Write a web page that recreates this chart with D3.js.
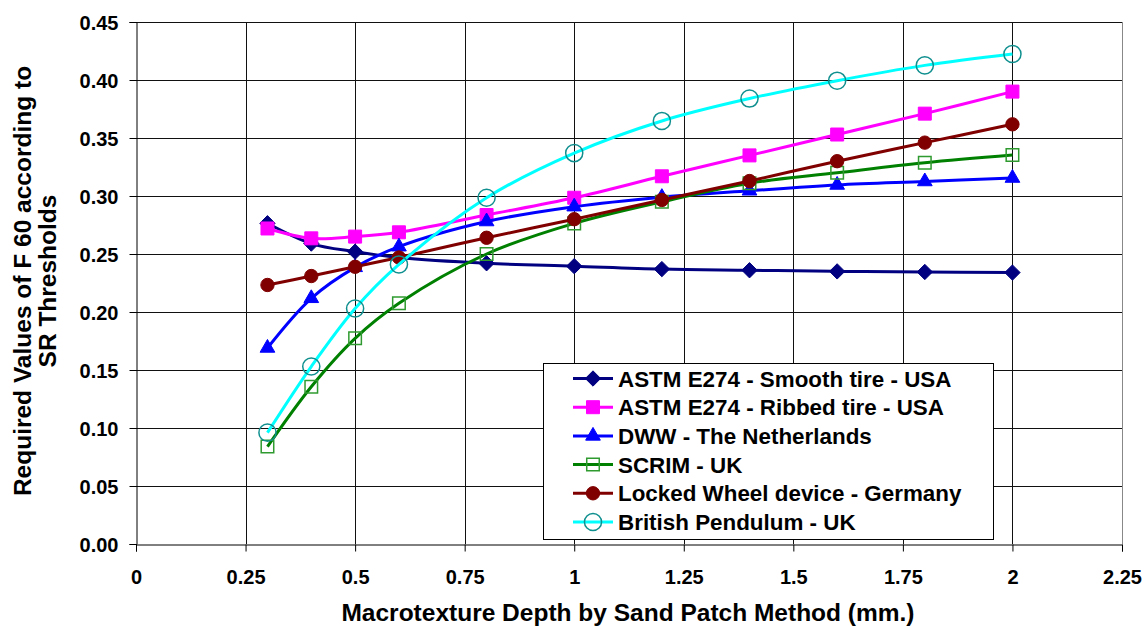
<!DOCTYPE html>
<html>
<head>
<meta charset="utf-8">
<script src="https://cdn.jsdelivr.net/npm/d3@7"></script>
<style>
  body { margin: 0; background: #fff; }
  svg { display: block; font-family: "Liberation Sans", Arial, sans-serif; font-weight: bold; }
</style>
</head>
<body>
<div id="chart"></div>
<script>
// data
const depths = [0.3, 0.4, 0.5, 0.6, 0.8, 1.0, 1.2, 1.4, 1.6, 1.8, 2.0];

const smoothTire = [0.2765, 0.259, 0.252, 0.247, 0.242, 0.2395, 0.237, 0.236, 0.235, 0.2345, 0.234];
const ribbedTire = [0.272, 0.2635, 0.265, 0.2687, 0.2836, 0.2985, 0.317, 0.335, 0.353, 0.371, 0.390];
const dww = [0.169, 0.2118, 0.2385, 0.2563, 0.278, 0.2908, 0.299, 0.3045, 0.3095, 0.3125, 0.3155];
const scrim = [0.084, 0.1356, 0.1773, 0.2075, 0.250, 0.2764, 0.295, 0.311, 0.320, 0.3287, 0.3353];
const lockedWheel = [0.2233, 0.231, 0.239, 0.247, 0.264, 0.280, 0.2966, 0.3129, 0.330, 0.346, 0.3618];
const britishPendulum = [0.096, 0.153, 0.203, 0.241, 0.2985, 0.337, 0.3647, 0.384, 0.3994, 0.4126, 0.4224];

const seriesNames = [
  'ASTM E274 - Smooth tire - USA',
  'ASTM E274 - Ribbed tire - USA',
  'DWW - The Netherlands',
  'SCRIM - UK',
  'Locked Wheel device - Germany',
  'British Pendulum - UK'
];

const xTicks = [0, 0.25, 0.5, 0.75, 1, 1.25, 1.5, 1.75, 2, 2.25];
const xTickLabels = ['0', '0.25', '0.5', '0.75', '1', '1.25', '1.5', '1.75', '2', '2.25'];
const yTicks = [0, 0.05, 0.1, 0.15, 0.2, 0.25, 0.3, 0.35, 0.4, 0.45];
const yTickLabels = ['0.00', '0.05', '0.10', '0.15', '0.20', '0.25', '0.30', '0.35', '0.40', '0.45'];

const xTitle = 'Macrotexture Depth by Sand Patch Method (mm.)';
const yTitleLines = ['Required Values of F 60 according to', 'SR Thresholds'];

// styling for each series, same order as seriesNames
const styles = [
  { line: '#000080', marker: 'diamond', fill: '#000080', stroke: '#000080', size: 150 },
  { line: '#ff00ff', marker: 'square', fill: '#ff00ff', stroke: '#ff00ff', size: 215 },
  { line: '#0000ff', marker: 'triangle', fill: '#0000ff', stroke: '#0000ff', size: 155 },
  { line: '#008000', marker: 'square', fill: 'none', stroke: '#2f9a2f', size: 200 },
  { line: '#800000', marker: 'circle', fill: '#800000', stroke: '#800000', size: 140 },
  { line: '#00ffff', marker: 'circle', fill: 'none', stroke: '#108f8f', size: 230 }
];

const values = [smoothTire, ribbedTire, dww, scrim, lockedWheel, britishPendulum];
const series = seriesNames.map((name, i) => ({
  name: name,
  style: styles[i],
  points: depths.map((d, j) => ({ x: d, y: values[i][j] }))
}));

const width = 1144;
const height = 626;
const margin = { top: 22, right: 22, bottom: 82, left: 136 };

const svg = d3.select('#chart')
  .append('svg')
  .attr('width', width)
  .attr('height', height);

const x = d3.scaleLinear()
  .domain([0, 2.25])
  .range([margin.left, width - margin.right]);

const y = d3.scaleLinear()
  .domain([0, 0.45])
  .range([height - margin.bottom, margin.top]);

const symbolTypes = {
  diamond: d3.symbolDiamond2,
  square: d3.symbolSquare2,
  triangle: d3.symbolTriangle2,
  circle: d3.symbolCircle
};

// grid
const grid = svg.append('g').attr('stroke', '#111').attr('stroke-width', 1);
grid.selectAll('line.h')
  .data(yTicks.slice(1))
  .enter()
  .append('line')
  .attr('x1', x(0))
  .attr('x2', x(2.25))
  .attr('y1', d => Math.round(y(d)) + 0.5)
  .attr('y2', d => Math.round(y(d)) + 0.5);

grid.selectAll('line.v')
  .data(xTicks.slice(1, -1))
  .enter()
  .append('line')
  .attr('y1', y(0))
  .attr('y2', y(0.45))
  .attr('x1', d => Math.round(x(d)) + 0.5)
  .attr('x2', d => Math.round(x(d)) + 0.5);

// right border of plot area
svg.append('line')
  .attr('x1', Math.round(x(2.25)) + 0.5)
  .attr('x2', Math.round(x(2.25)) + 0.5)
  .attr('y1', y(0.45))
  .attr('y2', y(0))
  .attr('stroke', '#888');

// axes
const xAxis = svg.append('g')
  .attr('transform', `translate(0,${Math.round(y(0)) + 0.5})`)
  .call(d3.axisBottom(x)
    .tickValues(xTicks)
    .tickFormat((d, i) => xTickLabels[i])
    .tickSize(7)
    .tickPadding(18));

const yAxis = svg.append('g')
  .attr('transform', `translate(${Math.round(x(0)) + 0.5},0)`)
  .call(d3.axisLeft(y)
    .tickValues(yTicks)
    .tickFormat((d, i) => yTickLabels[i])
    .tickSize(7)
    .tickPadding(11));

[xAxis, yAxis].forEach(ax => {
  ax.select('.domain').attr('stroke', '#000');
  ax.selectAll('.tick line').attr('stroke', '#000');
  ax.selectAll('.tick text')
    .attr('fill', '#000')
    .style('font-family', '"Liberation Sans", Arial, sans-serif')
    .style('font-weight', 'bold')
    .style('font-size', '20px');
});
yAxis.selectAll('.tick text').attr('dy', '0.36em');

// axis titles
svg.append('text')
  .attr('x', 628)
  .attr('y', 621)
  .attr('text-anchor', 'middle')
  .style('font-size', '24.5px')
  .text(xTitle);

svg.append('g')
  .attr('transform', `translate(0,${(y(0) + y(0.45)) / 2 - 2}) rotate(-90)`)
  .selectAll('text')
  .data(yTitleLines)
  .enter()
  .append('text')
  .attr('x', 0)
  .attr('y', (d, i) => 31 + i * 25)
  .attr('text-anchor', 'middle')
  .style('font-size', '24.5px')
  .text(d => d);

// series
const line = d3.line()
  .x(d => x(d.x))
  .y(d => y(d.y))
  .curve(d3.curveCatmullRom.alpha(0.5));

series.forEach(s => {
  const g = svg.append('g');
  g.append('path')
    .datum(s.points)
    .attr('fill', 'none')
    .attr('stroke', s.style.line)
    .attr('stroke-width', 3)
    .attr('d', line);

  const sym = d3.symbol().type(symbolTypes[s.style.marker]).size(s.style.size);
  g.selectAll('path.marker')
    .data(s.points)
    .enter()
    .append('path')
    .attr('class', 'marker')
    .attr('transform', d => `translate(${x(d.x)},${y(d.y)})`)
    .attr('d', sym)
    .attr('fill', s.style.fill)
    .attr('stroke', s.style.stroke)
    .attr('stroke-width', s.style.fill === 'none' ? 1.5 : 1);
});

// legend
const legend = svg.append('g');
legend.append('rect')
  .attr('x', 543.5)
  .attr('y', 363.5)
  .attr('width', 450)
  .attr('height', 176)
  .attr('fill', '#fff')
  .attr('stroke', '#000');

const rows = legend.selectAll('g.row')
  .data(series)
  .enter()
  .append('g')
  .attr('transform', (d, i) => `translate(0,${378.5 + i * 28.7})`);

rows.append('line')
  .attr('x1', 573)
  .attr('x2', 613)
  .attr('stroke', d => d.style.line)
  .attr('stroke-width', 3);

rows.append('path')
  .attr('transform', 'translate(593,0)')
  .attr('d', d => d3.symbol().type(symbolTypes[d.style.marker]).size(d.style.size)())
  .attr('fill', d => d.style.fill)
  .attr('stroke', d => d.style.stroke)
  .attr('stroke-width', d => d.style.fill === 'none' ? 1.5 : 1);

rows.append('text')
  .attr('x', 618)
  .attr('dy', '0.36em')
  .style('font-size', '22.4px')
  .text(d => d.name);
</script>
</body>
</html>
